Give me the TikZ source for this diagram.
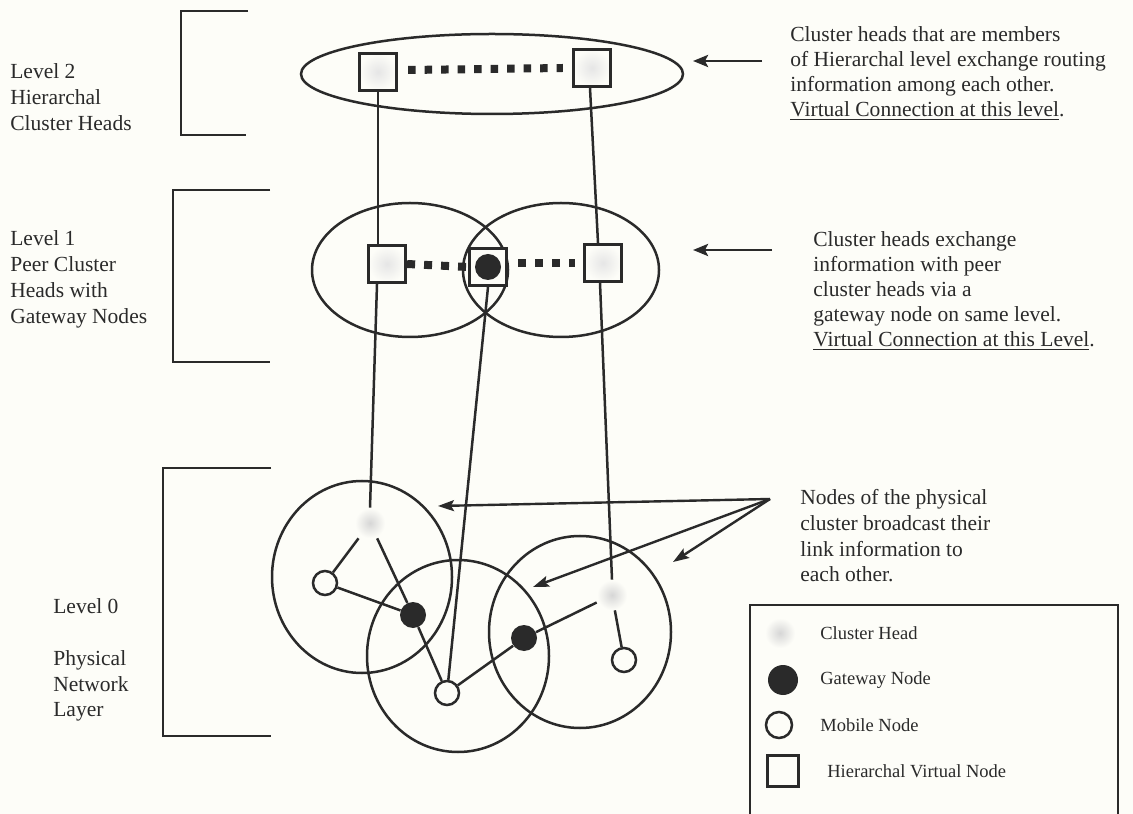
\documentclass[tikz,border=0pt]{standalone}
\usepackage{fontspec}
\setmainfont{Liberation Serif}
\usetikzlibrary{arrows.meta,calc}
\definecolor{bg}{RGB}{253,253,248}
\definecolor{dk}{RGB}{42,42,42}
\def\pu{0.567pt}
\begin{document}
\begin{tikzpicture}[x=0.567pt,y=-0.567pt,
  lin/.style={draw=dk,line width=2.5*\pu},
  brk/.style={draw=dk,line width=2.8*\pu},
  vsq/.style={rectangle,draw=dk,line width=3.2*\pu,minimum size=37*\pu,inner sep=0pt,
     inner color=black!10,outer color=bg},
  chead/.style={rectangle,minimum size=30*\pu,inner sep=0pt,draw=none,
     inner color=black!16,outer color=bg},
  mob/.style={circle,draw=dk,line width=2.5*\pu,fill=bg,minimum size=24*\pu,inner sep=0pt},
  gw/.style={circle,fill=dk,minimum size=26*\pu,inner sep=0pt},
  vdots/.style={draw=dk,line width=8*\pu,dash pattern=on 7.5*\pu off 9*\pu},
  pdots/.style={draw=dk,line width=8*\pu,dash pattern=on 8*\pu off 9*\pu},
  arr/.style={draw=dk,line width=2.8*\pu,-{Stealth[length=15*\pu,width=12*\pu,inset=3*\pu]}},
  arrs/.style={draw=dk,line width=2.4*\pu,-{Stealth[length=16*\pu,width=11*\pu,inset=3*\pu]}},
  txt/.style={font=\fontsize{12.2}{14.2}\selectfont,align=left,anchor=north west,inner sep=0pt,text=dk},
  ltxt/.style={font=\fontsize{12.2}{14.7}\selectfont,align=left,anchor=north west,inner sep=0pt,text=dk},
  legt/.style={font=\fontsize{10.5}{12}\selectfont,anchor=west,inner sep=0pt,text=dk}
]
\fill[bg] (0,0) rectangle (1133,814);
\useasboundingbox (0,0) rectangle (1133,814);

% brackets
\draw[brk] (248,11) -- (181,11) -- (181,135) -- (246,135);
\draw[brk] (270,190) -- (173,190) -- (173,362) -- (270,362);
\draw[brk] (271,468) -- (163,468) -- (163,736) -- (271,736);

% left labels
\node[ltxt] (lab2) at (10,63) {Level 2\\Hierarchal\\Cluster Heads};
\node[ltxt] (lab1) at (10,230) {Level 1\\Peer Cluster\\Heads with\\Gateway Nodes};
\node[ltxt] (lab0) at (53,598) {Level 0\\[14.7pt]Physical\\Network\\Layer};

% level 2
\draw[lin] (492,74) ellipse [x radius=191*\pu, y radius=40*\pu];
\node[vsq] (l2a) at (378,72) {};
\node[vsq] (l2b) at (592,68) {};
\draw[vdots] ($(l2a.east)+(10,-2)$) -- ($(l2b.west)+(-9,0)$);

% level 1
\draw[lin] (410,270) ellipse [x radius=98*\pu, y radius=67*\pu];
\draw[lin] (561,270) ellipse [x radius=98*\pu, y radius=67*\pu];
\node[vsq] (l1a) at (387,264) {};
\node[vsq,inner color=bg] (l1b) at (488,267) {};
\node[gw] (gw0) at (l1b.center) {};
\node[vsq] (l1c) at (603,263) {};
\draw[pdots] (l1a.east) -- (l1b.west);
\draw[pdots] ($(l1b.east)+(10,-4)$) -- ($(l1c.west)+(-8,0)$);

% level 0 clusters
\draw[lin] (362,577) ellipse [x radius=90*\pu, y radius=96*\pu];
\draw[lin] (458,656) ellipse [x radius=91*\pu, y radius=96*\pu];
\draw[lin] (580,632) ellipse [x radius=91*\pu, y radius=96*\pu];

\node[chead] (ch1) at (370,523) {};
\node[chead] (ch2) at (612,595) {};
\node[mob] (m1) at (325,583) {};
\node[gw] (g1) at (413,615) {};
\node[mob] (m2) at (447,693) {};
\node[gw] (g2) at (524,638) {};
\node[mob] (m3) at (624,660) {};

\draw[lin] (ch1) -- (m1);
\draw[lin] (ch1) -- (g1);
\draw[lin] (m1) -- (g1);
\draw[lin] (g1) -- (m2);
\draw[lin] (m2) -- (g2);
\draw[lin] (g2) -- (ch2);
\draw[lin] (ch2) -- (m3);

% vertical connections
\draw[lin] (l2a.south) -- (l2a.south |- l1a.north);
\draw[lin] ($(l1a.south)+(-10,0)$) -- (ch1.north);
\draw[lin] (l1b.south) -- (m2);
\draw[lin] ($(l2b.south)+(-2,0)$) -- ($(l1c.north)+(-5,0)$);
\draw[lin] ($(l1c.south)+(-3,0)$) -- (ch2.north);

% annotations
\coordinate (a2s) at (762,61);
\coordinate (a2t) at (693,61);
\draw[arr] (a2s) -- (a2t);
\node[txt] (t2) at (790,26) {Cluster heads that are members\\of Hierarchal level exchange routing\\information among each other.\\\underline{Virtual Connection at this level}.};

\coordinate (a1s) at (772,250);
\coordinate (a1t) at (693,250);
\draw[arr] (a1s) -- (a1t);
\node[txt] (t1) at (813,231) {Cluster heads exchange\\information with peer\\cluster heads via a\\gateway node on same level.\\\underline{Virtual Connection at this Level}.};

\coordinate (src) at (770,499);
\coordinate (tp1) at (438,506);
\coordinate (tp2) at (533,587);
\coordinate (tp3) at (673,562);
\draw[arrs] (src) -- (tp1);
\draw[arrs] (src) -- (tp2);
\draw[arrs] (src) -- (tp3);
\node[txt,font=\fontsize{12.2}{14.6}\selectfont] (t0) at (800,489) {Nodes of the physical\\cluster broadcast their\\link information to\\each other.};

% legend
\draw[lin] (750,820) -- (750,605) -- (1118,605) -- (1118,820);
\node[chead] (lch) at (780,633) {};
\node[gw,minimum size=30*\pu] (lgw) at (783,680) {};
\node[mob,minimum size=26*\pu] (lmo) at (779,725) {};
\node[vsq,inner color=bg,minimum size=31*\pu,line width=2.8*\pu] (lvn) at (783,771) {};
\node[legt] (lt1) at (820,633) {Cluster Head};
\node[legt] (lt2) at (820,680) {Gateway Node};
\node[legt] (lt3) at (820,725) {Mobile Node};
\node[legt] (lt4) at (827,771) {Hierarchal Virtual Node};
\end{tikzpicture}
\end{document}
